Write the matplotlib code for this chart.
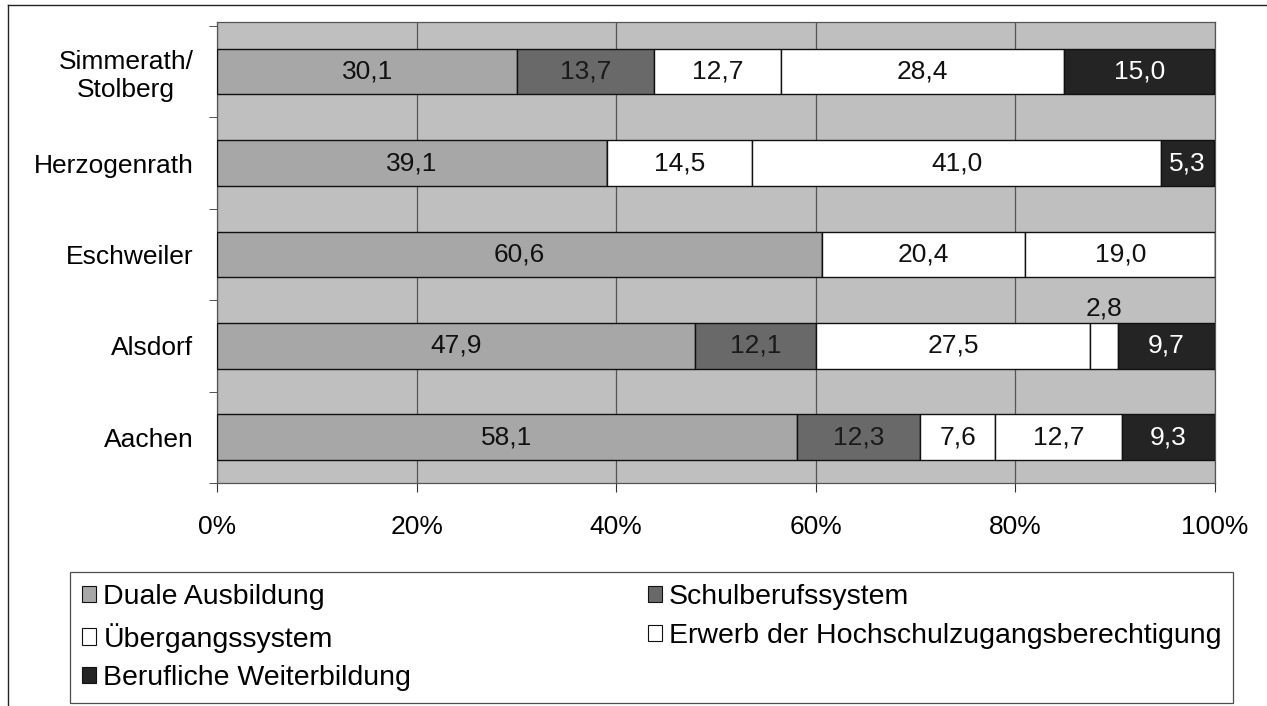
import numpy as np
import matplotlib.pyplot as plt
from matplotlib.patches import Patch
from matplotlib.lines import Line2D

plt.rcParams['font.family'] = ['Liberation Sans', 'DejaVu Sans']

# regions, bottom to top
regions = ['Aachen', 'Alsdorf', 'Eschweiler', 'Herzogenrath', 'Simmerath/\nStolberg']

# shares in percent per sector
duale = [58.1, 47.9, 60.6, 39.1, 30.1]
schul = [12.3, 12.1, 0.0, 0.0, 13.7]
uebergang = [7.6, 27.5, 20.4, 14.5, 12.7]
erwerb = [12.7, 2.8, 19.0, 41.0, 28.4]
weiter = [9.3, 9.7, 0.0, 5.3, 15.0]

series_names = ['Duale Ausbildung', 'Schulberufssystem', 'Übergangssystem',
                'Erwerb der Hochschulzugangsberechtigung', 'Berufliche Weiterbildung']
series = [duale, schul, uebergang, erwerb, weiter]
fills = ['#a7a7a7', '#696969', '#ffffff', '#ffffff', '#242424']
txtcol = ['#111111', '#1a1a1a', '#111111', '#111111', '#ffffff']

fs = 19

fig = plt.figure(figsize=(12.67, 7.06), dpi=100)
ax = fig.add_axes([217 / 1267, 1 - 483 / 706, 998 / 1267, 461 / 706])
ax.set_facecolor('#bfbfbf')

y = np.arange(len(regions))
left = np.zeros(len(regions))
for k, vals in enumerate(series):
    vals = np.array(vals)
    ax.barh(y, vals, left=left, height=0.5, color=fills[k], edgecolor='#111111',
            linewidth=1.0, zorder=3)
    for i, v in enumerate(vals):
        if v <= 0:
            continue
        cx = left[i] + v / 2
        lab = f'{v:.1f}'.replace('.', ',')
        if v < 4:
            # too narrow, put the number above the bar
            ax.text(cx, y[i] + 0.41, lab, ha='center', va='center', fontsize=fs,
                    color='#111111', zorder=4)
        else:
            ax.text(cx, y[i], lab, ha='center', va='center', fontsize=fs,
                    color=txtcol[k], zorder=4)
    left += vals

ax.set_xlim(0, 100)
ax.set_ylim(-0.467, 4.543)
ax.set_xticks([0, 20, 40, 60, 80, 100])
ax.set_xticklabels(['0%', '20%', '40%', '60%', '80%', '100%'])
ax.set_yticks(y)
ax.set_yticklabels(regions)
for t in ax.get_yticklabels():
    t.set_multialignment('center')
ax.set_yticks(np.arange(-0.5, 4.6, 1.0), minor=True)
ax.tick_params(axis='y', which='major', length=0, pad=17, labelsize=fs)
ax.tick_params(axis='y', which='minor', length=6, direction='out', color='#333333')
ax.tick_params(axis='x', length=6.5, direction='out', pad=16.5, labelsize=fs, color='#333333')
ax.xaxis.grid(True, color='#555555', linewidth=0.9)
ax.set_axisbelow(True)
for s in ax.spines.values():
    s.set_color('#555555')
    s.set_linewidth(0.9)

# legend: two columns, row-wise order
handles = [Patch(facecolor=fills[k], edgecolor='#111111', linewidth=0.8) for k in range(5)]
order = [0, 2, 4, 1, 3]
leg = fig.legend([handles[i] for i in order], [series_names[i] for i in order],
                 loc='upper left', bbox_to_anchor=(70 / 1267, 1 - 572 / 706),
                 ncol=2, frameon=True, fancybox=False,
                 edgecolor='#222222', fontsize=20.5, handlelength=0.5,
                 handleheight=0.5, handletextpad=0.25, labelspacing=0.45,
                 columnspacing=8.3, borderaxespad=0.0, borderpad=0.42)
leg.get_frame().set_linewidth(0.9)

# outer frame of the chart area
fig.add_artist(Line2D([8 / 1267, 8 / 1267], [0, 1 - 5 / 706], transform=fig.transFigure,
                      color='#222222', linewidth=1.0))
fig.add_artist(Line2D([8 / 1267, 1], [1 - 5 / 706, 1 - 5 / 706], transform=fig.transFigure,
                      color='#222222', linewidth=1.0))

fig.savefig('out.png', dpi=100)
